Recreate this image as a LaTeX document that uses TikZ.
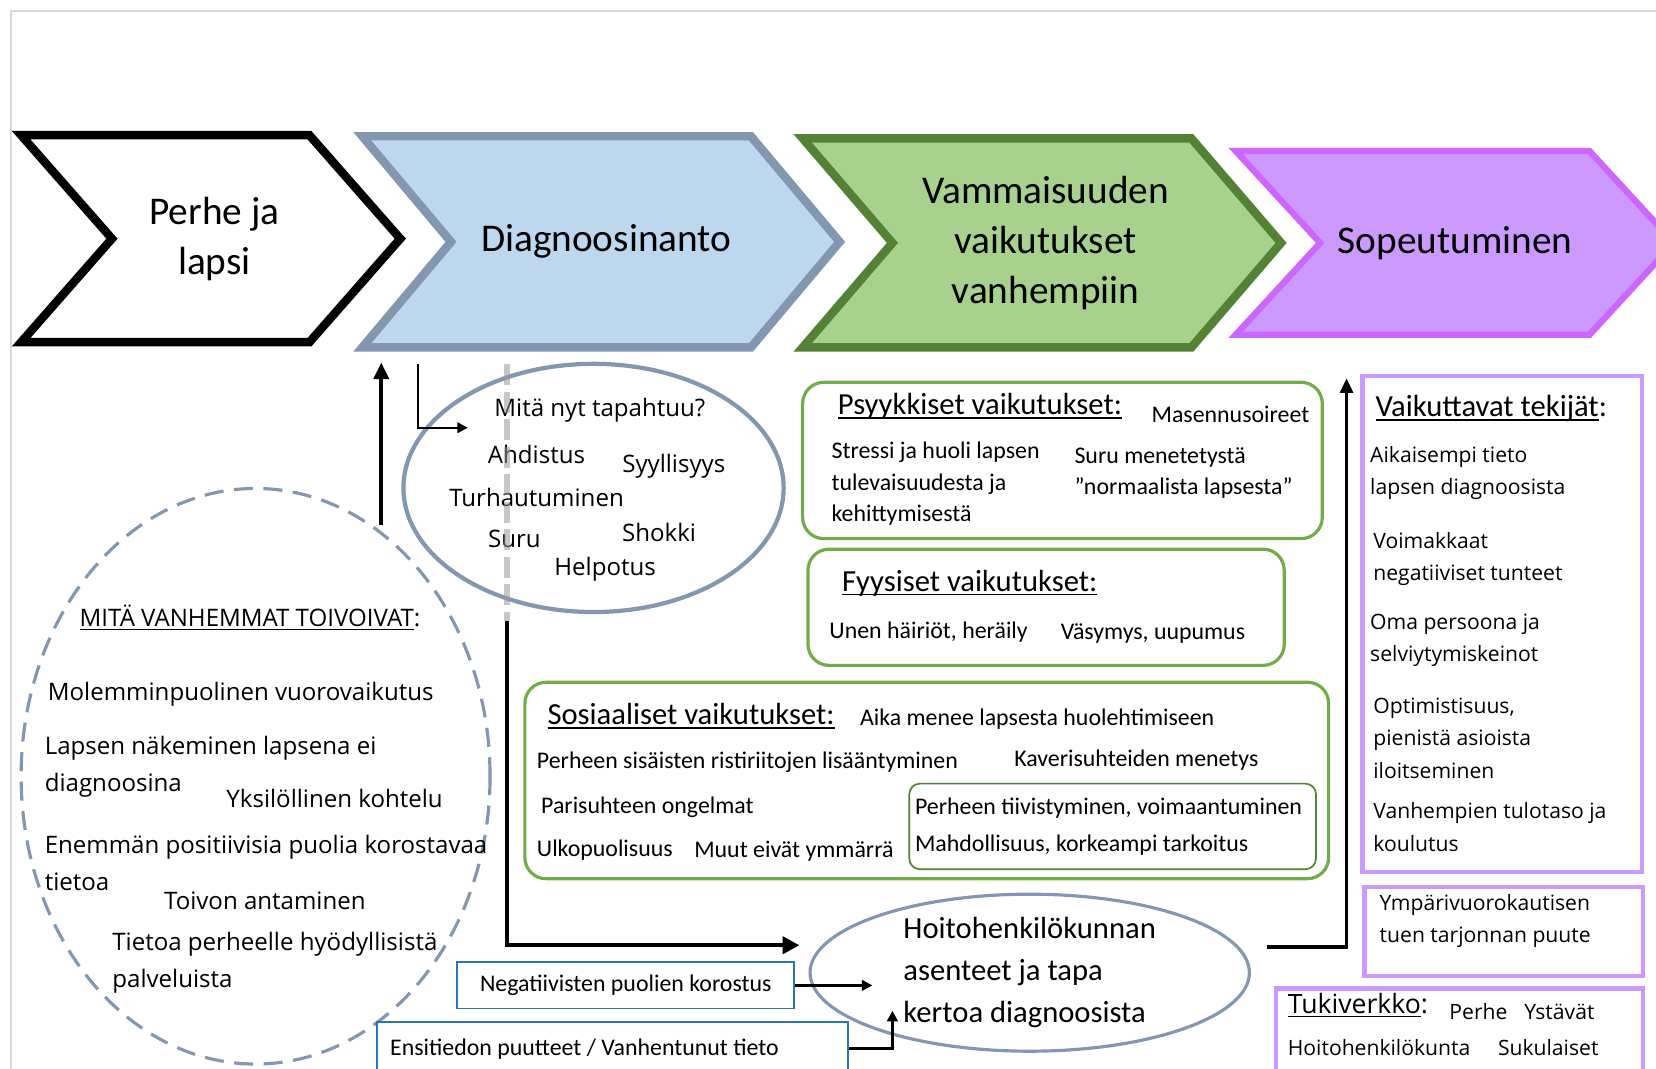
\documentclass[tikz,border=0pt]{standalone}
\usepackage{fontspec}
\setmainfont{Carlito}
\newfontfamily\osans{Open Sans}
\usetikzlibrary{arrows.meta,positioning,shapes.geometric}

\definecolor{diagblue}{HTML}{BDD7EE}
\definecolor{diagedge}{HTML}{8497B0}
\definecolor{vamgreen}{HTML}{A9D18E}
\definecolor{vamedge}{HTML}{538135}
\definecolor{sopfill}{HTML}{CC99FF}
\definecolor{sopedge}{HTML}{CC66FF}
\definecolor{boxgreen}{HTML}{70AD47}
\definecolor{boxblue}{HTML}{2E75B6}
\definecolor{boxlila}{HTML}{CC99FF}
\definecolor{framegray}{HTML}{D9D9D9}

% underline that sits just under the baseline
\newcommand{\undl}[1]{\setbox0\hbox{#1}\rlap{\rule[-1.8pt]{\wd0}{0.6pt}}\box0}

\tikzset{
  chevtxt/.style={font=\fontsize{18.6}{23.7}\selectfont, align=center},
  headtxt/.style={font=\fontsize{14.5}{17}\selectfont, anchor=west, inner sep=0pt},
  bodytxt/.style={font=\fontsize{11.3}{15}\selectfont, anchor=west, inner sep=0pt, align=left},
  wishtxt/.style={font=\osans\fontsize{11.4}{17.5}\selectfont, anchor=west, inner sep=0pt, align=left},
  feeltxt/.style={font=\osans\fontsize{11.4}{14}\selectfont, inner sep=0pt},
  facttxt/.style={font=\osans\fontsize{10}{15.3}\selectfont, anchor=west, inner sep=0pt, align=left},
  greenbox/.style={draw=boxgreen, line width=1.5pt, rounded corners=10pt},
  lilabox/.style={draw=boxlila, line width=2pt},
  bluebox/.style={draw=boxblue, line width=0.8pt},
  oval/.style={ellipse, draw=diagedge, line width=2pt, inner sep=0pt},
  flow/.style={line width=2pt, -{Triangle[length=8pt,width=8pt]}},
  thinflow/.style={line width=1.5pt, -{Triangle[length=5pt,width=5pt]}},
}

\begin{document}
\begin{tikzpicture}[x=0.5pt,y=-0.5pt]
  \useasboundingbox (0,0) rectangle (1568,1012);
  \clip (0,0) rectangle (1568,1012);
  % frame
  \draw[framegray, line width=1pt] (10,1012) -- (10,10) -- (1568,10);

  % process chevrons
  \foreach \nm/\xa/\xb/\ya/\yb/\dep/\fc/\dc/\lw/\cx/\txt in {
    perhe/20/293/128/324/86/white/black/4pt/203/{Perhe ja\\lapsi},
    diag/343/711/129/329/84/diagblue/diagedge/4pt/574/Diagnoosinanto,
    vamm/760/1128/131/329/85/vamgreen/vamedge/4pt/990/{Vammaisuuden\\vaikutukset\\vanhempiin},
    sopeu/1170/1505/143/317/80/sopfill/sopedge/3pt/1382/Sopeutuminen
  }{
    \pgfmathsetmacro{\ym}{(\ya+\yb)/2}
    \draw[line width=\lw, draw=\dc, fill=\fc] (\xa,\ya) -- (\xb,\ya) -- (\xb+\dep,\ym)
      -- (\xb,\yb) -- (\xa,\yb) -- (\xa+\dep,\ym) -- cycle;
    \node[chevtxt] (\nm) at (\cx,\ym) {\txt};
  }

  % what parents hope for
  \node[oval, dashed, line width=1.5pt, dash pattern=on 9pt off 5pt,
        minimum width=222pt, minimum height=272.5pt] (wish) at (242,735) {};
  \node[wishtxt] (wishh) at (75,585) {\undl{MITÄ VANHEMMAT TOIVOIVAT}:};
  \node[wishtxt] (w1) at (45,657) {Molemminpuolinen vuorovaikutus};
  \node[wishtxt] (w2) at (42,726) {Lapsen näkeminen lapsena ei\\diagnoosina};
  \node[wishtxt] (w3) at (214,756) {Yksilöllinen kohtelu};
  \node[wishtxt] (w4) at (42,817) {Enemmän positiivisia puolia korostavaa\\tietoa};
  \node[wishtxt] (w5) at (155,853) {Toivon antaminen};
  \node[wishtxt] (w6) at (106,912) {Tietoa perheelle hyödyllisistä\\palveluista};

  % feelings at diagnosis
  \node[oval, minimum width=180pt, minimum height=117.5pt] (feel) at (562,462) {};
  \node[feeltxt] (f0) at (568,388) {Mitä nyt tapahtuu?};
  \node[feeltxt] (f1) at (508,430) {Ahdistus};
  \node[feeltxt] (f2) at (638,441) {Syyllisyys};
  \node[feeltxt] (f3) at (508,471) {Turhautuminen};
  \node[feeltxt] (f4) at (487,510) {Suru};
  \node[feeltxt] (f5) at (624,504) {Shokki};
  \node[feeltxt] (f6) at (573,539) {Helpotus};

  % effects on parents
  \node[greenbox, minimum width=246pt, minimum height=74pt] (psy) at (1006,436) {};
  \node[headtxt] (psyh) at (793,385) {\undl{Psyykkiset vaikutukset:}};
  \node[bodytxt] (p1) at (1090,392) {Masennusoireet};
  \node[bodytxt] (p2) at (787,458) {Stressi ja huoli lapsen\\tulevaisuudesta ja\\kehittymisestä};
  \node[bodytxt] (p3) at (1017,448) {Suru menetetystä\\”normaalista lapsesta”};

  \node[greenbox, minimum width=225.5pt, minimum height=55pt] (fyy) at (990.5,575) {};
  \node[headtxt] (fyyh) at (797,552) {\undl{Fyysiset vaikutukset:}};
  \node[bodytxt] (y1) at (785,599) {Unen häiriöt, heräily};
  \node[bodytxt] (y2) at (1004,600) {Väsymys, uupumus};

  \node[greenbox, minimum width=380.5pt, minimum height=93pt] (sos) at (877.5,739) {};
  \node[headtxt] (sosh) at (518,678) {\undl{Sosiaaliset vaikutukset:}};
  \node[bodytxt] (s1) at (814,681) {Aika menee lapsesta huolehtimiseen};
  \node[bodytxt] (s2) at (508,722) {Perheen sisäisten ristiriitojen lisääntyminen};
  \node[bodytxt] (s3) at (960,720) {Kaverisuhteiden menetys};
  \node[bodytxt] (s4) at (512,764) {Parisuhteen ongelmat};
  \node[bodytxt] (s5) at (508,805) {Ulkopuolisuus};
  \node[bodytxt] (s6) at (657,806) {Muut eivät ymmärrä};
  \node[draw=vamedge, line width=0.8pt, rounded corners=5pt,
        minimum width=192.5pt, minimum height=40.5pt] (plus) at (1053.5,782.5) {};
  \node[bodytxt] (s7) at (866,765) {Perheen tiivistyminen, voimaantuminen};
  \node[bodytxt] (s8) at (866,800) {Mahdollisuus, korkeampi tarkoitus};

  % staff and information
  \node[oval, line width=1.5pt, minimum width=208pt, minimum height=73pt, align=left,
        font=\fontsize{14.5}{20}\selectfont] (staff) at (975,921)
        {Hoitohenkilökunnan\\asenteet ja tapa\\kertoa diagnoosista};
  \node[bluebox, minimum width=159.5pt, minimum height=22pt,
        font=\fontsize{11.3}{14}\selectfont] (neg) at (592.5,933) {Negatiivisten puolien korostus};
  \node[bluebox, minimum width=223pt, minimum height=25pt] (ensi) at (580,993) {};
  \node[bodytxt] (ensit) at (369,993) {Ensitiedon puutteet / Vanhentunut tieto};

  % adaptation
  \node[lilabox, minimum width=132.5pt, minimum height=235pt] (facts) at (1422.5,591) {};
  \node[headtxt] (factsh) at (1302,387) {\undl{Vaikuttavat tekijät}:};
  \node[facttxt] (a1) at (1297,448) {Aikaisempi tieto\\lapsen diagnoosista};
  \node[facttxt] (a2) at (1300,529) {Voimakkaat\\negatiiviset tunteet};
  \node[facttxt] (a3) at (1297,606) {Oma persoona ja\\selviytymiskeinot};
  \node[facttxt] (a4) at (1300,699) {Optimistisuus,\\pienistä asioista\\iloitseminen};
  \node[facttxt] (a5) at (1300,783) {Vanhempien tulotaso ja\\koulutus};
  \node[lilabox, minimum width=132pt, minimum height=42pt] (lack) at (1424,882) {};
  \node[facttxt] (a6) at (1306,872) {Ympärivuorokautisen\\tuen tarjonnan puute};
  \node[lilabox, minimum width=174pt, minimum height=47pt] (tuki) at (1382,983) {};
  \node[facttxt, font=\osans\fontsize{12.6}{15}\selectfont] (tukih) at (1219,952) {\undl{Tukiverkko}:};
  \node[facttxt] (t1) at (1372,958) {Perhe};
  \node[facttxt] (t2) at (1443,958) {Ystävät};
  \node[facttxt] (t3) at (1219,992) {Hoitohenkilökunta};
  \node[facttxt] (t4) at (1418,992) {Sukulaiset};

  % connectors
  \coordinate (wishtop) at (361,497);
  \coordinate (diagfoot) at (361,343);
  \coordinate (lstart) at (396,345);
  \coordinate (lend) at (443,405);
  \coordinate (dtop) at (480,345);
  \coordinate (dbend) at (480,588);
  \coordinate (staffin) at (757,895);
  \coordinate (negtip) at (826,933);
  \coordinate (ensitip) at (845,957);
  \coordinate (copein) at (1200,897);
  \coordinate (copetop) at (1275,358);

  \draw[line width=2pt, -{Triangle[length=8pt,width=7pt]}] (wishtop) -- (diagfoot);
  \draw[line width=1pt, -{Triangle[length=5pt,width=5pt]}] (lstart) |- (lend);
  \draw[black!40, opacity=0.55, line width=2.5pt, dash pattern=on 10pt off 3pt] (dtop) -- (dbend);
  \draw[flow] (dbend) |- (staffin);
  \draw[thinflow] (neg.east) -- (negtip);
  \draw[thinflow] (ensi.east) -| (ensitip);
  \draw[line width=1.8pt, -{Triangle[length=7pt,width=6pt]}] (copein) -| (copetop);
\end{tikzpicture}
\end{document}
